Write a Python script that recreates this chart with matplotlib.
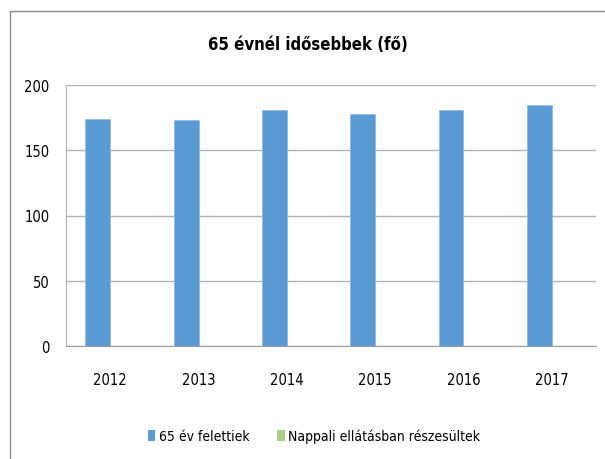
import matplotlib
matplotlib.use("Agg")
import matplotlib.pyplot as plt
from matplotlib.patches import Rectangle, Patch
import numpy as np

plt.rcParams['font.family'] = ['DejaVu Sans']
plt.rcParams['font.stretch'] = 'condensed'

years = ["2012", "2013", "2014", "2015", "2016", "2017"]
over65 = [174, 173, 181, 178, 181, 185]
daycare = [0, 0, 0, 0, 0, 0]
title = "65 évnél idősebbek (fő)"
series_names = ["65 év felettiek", "Nappali ellátásban részesültek"]
yticks = [0, 50, 100, 150, 200]

blue = "#5B9BD5"
green = "#A9D18E"

fig = plt.figure(figsize=(6.05, 4.6), dpi=100)
fig.patch.set_facecolor("white")
fig.add_artist(Rectangle((10/605, -0.1), 1.2, 1 - 12/460 + 0.1, transform=fig.transFigure,
                         fill=False, edgecolor="#8c8c8c", linewidth=1.0))

ax = fig.add_axes([66/605, 1 - 347/460, 530/605, 261/460])
x = np.arange(len(years))
w = 0.283
ax.bar(x - w/2, over65, width=w, color=blue, label=series_names[0], zorder=3,
       edgecolor="#8db9e3", linewidth=0.5)
ax.bar(x + w/2, daycare, width=w, color=green, label=series_names[1], zorder=3, linewidth=0)

ax.set_xlim(-0.5, len(years) - 0.5)
ax.set_ylim(0, 200)
ax.set_yticks(yticks)
ax.set_xticks(x)
ax.set_xticklabels(years)
ax.tick_params(axis='both', length=0, labelsize=10.5, colors="black")
ax.tick_params(axis='x', pad=19)
ax.tick_params(axis='y', pad=12)
ax.grid(axis='y', color="#b3b3b3", linewidth=1.0, zorder=0)
for s in ["top", "right"]:
    ax.spines[s].set_visible(False)
ax.spines["left"].set_color("#b3b3b3")
ax.spines["bottom"].set_color("#9a9a9a")

fig.text(308/605, 1 - 45/460, title, ha="center", va="center", fontsize=12, fontweight="bold")

handles = [Patch(facecolor=blue), Patch(facecolor=green)]
fig.legend(handles, series_names, loc="center", bbox_to_anchor=(314/605, 1 - 437/460),
           ncol=2, frameon=False, fontsize=10, handlelength=0.55, handleheight=0.8,
           handletextpad=0.25, columnspacing=2.0)

fig.savefig("out.png", dpi=100)
